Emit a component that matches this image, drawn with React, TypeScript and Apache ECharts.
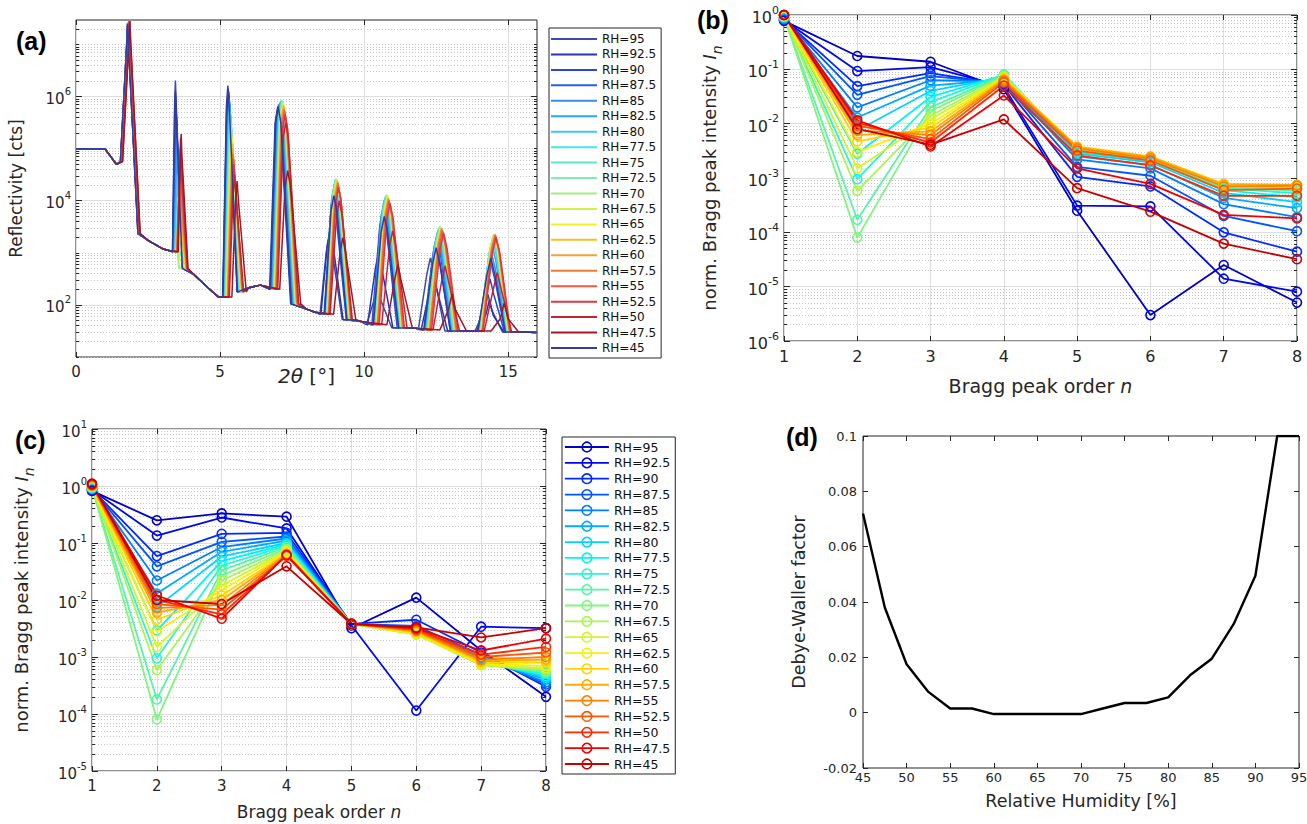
import React, { useEffect, useRef } from "react";
import * as echarts from "echarts";

// ---------------- shared categories ----------------
const RH_LEVELS = ["95", "92.5", "90", "87.5", "85", "82.5", "80", "77.5", "75", "72.5", "70", "67.5", "65", "62.5", "60", "57.5", "55", "52.5", "50", "47.5", "45"];

const COLORS_A = ["#3d4aa8", "#2a33b0", "#2a45d8", "#2460ea", "#3a8cee", "#2aa8f0", "#3fc6f0", "#3de8f0", "#5ce8cc", "#7deeb0", "#a2ee80", "#d4f048", "#f4f020", "#f2c020", "#f2a040", "#f27a30", "#ee5a40", "#e23444", "#c42434", "#a01824", "#323c9c"];
const COLORS_JET = ["#0000c8", "#0008f0", "#002aff", "#0055ff", "#0080ff", "#00aaff", "#00d4ff", "#00f4f4", "#2af4d4", "#55f4aa", "#80f480", "#aaf455", "#d4f42a", "#f8f000", "#ffd400", "#ffaa00", "#ff8000", "#ff5500", "#ff2a00", "#f00000", "#c80000"];

// ---------------- panel (a): reflectivity (log10 counts) ----------------
const A_START = [[0, 5.0], [1.0, 5.0], [1.4, 4.7]];
const A_GAPS = [
  [[2.5, 3.24], [3.0, 3.08], [3.25, 3.04]],
  [[4.1, 2.58], [4.6, 2.32], [4.95, 2.15]],
  [[6.0, 2.33], [6.4, 2.38]],
  [[8.0, 1.92], [8.3, 1.86]],
  [[9.9, 1.68]],
  [[11.8, 1.55]],
  [[13.75, 1.5]],
  [[15.5, 1.48], [16, 1.47]],
];
const A_FOOT_L_DX = [0.25, 0.1, 0.18, 0.28, 0.32, 0.38, 0.42, 0.45];
const A_FOOT_R_DX = [0.36, 0.24, 0.32, 0.45, 0.45, 0.5, 0.5, 0.5];
const A_FOOT_L_LOG = [4.75, 3.02, 2.15, 2.3, 1.82, 1.62, 1.52, 1.5];
const A_FOOT_R_LOG = [3.37, 2.7, 2.25, 2.02, 1.72, 1.56, 1.5, 1.48];
// shoulder of each peak order: horizontal half-width and drop below the top (log10)
const A_SHOULDER_DX = [0.035, 0.025, 0.05, 0.09, 0.1, 0.11, 0.12, 0.13];
const A_SHOULDER_DROP = [0.45, 0.4, 0.4, 0.3, 0.3, 0.3, 0.3, 0.3];

const A_POS_1 = [1.79, 1.79, 1.8, 1.8, 1.8, 1.81, 1.81, 1.81, 1.82, 1.82, 1.82, 1.83, 1.83, 1.83, 1.84, 1.84, 1.84, 1.85, 1.86, 1.87, 1.79];
const A_LOG_1 = [7.4, 7.4, 7.41, 7.41, 7.42, 7.42, 7.42, 7.43, 7.43, 7.43, 7.43, 7.43, 7.43, 7.44, 7.44, 7.44, 7.44, 7.45, 7.45, 7.45, 7.4];
const A_POS_2 = [3.45, 3.46, 3.48, 3.49, 3.5, 3.51, 3.52, 3.53, 3.54, 3.55, 3.56, 3.56, 3.57, 3.58, 3.59, 3.6, 3.61, 3.62, 3.63, 3.65, 3.45];
const A_LOG_2 = [6.31, 6.0, 5.7, 5.5, 5.2, 4.9, 4.5, 4.0, 3.5, 2.9, 2.75, 3.3, 3.8, 4.1, 4.4, 4.6, 4.8, 5.0, 5.2, 5.28, 6.1];
const A_POS_3 = [5.27, 5.28, 5.3, 5.31, 5.32, 5.33, 5.34, 5.36, 5.37, 5.38, 5.39, 5.4, 5.42, 5.43, 5.44, 5.45, 5.47, 5.48, 5.5, 5.59, 5.28];
const A_LOG_3 = [6.21, 6.15, 6.1, 6.0, 5.95, 5.85, 5.8, 5.7, 5.6, 5.5, 5.4, 5.3, 5.2, 5.1, 5.0, 4.9, 4.8, 4.7, 4.5, 4.38, 6.1];
const A_POS_4 = [7.0, 7.02, 7.04, 7.06, 7.08, 7.1, 7.12, 7.14, 7.15, 7.16, 7.17, 7.18, 7.19, 7.2, 7.21, 7.22, 7.24, 7.26, 7.28, 7.35, 7.02];
const A_LOG_4 = [5.8, 5.82, 5.84, 5.86, 5.88, 5.9, 5.92, 5.92, 5.92, 5.9, 5.9, 5.88, 5.86, 5.84, 5.8, 5.76, 5.72, 5.66, 5.5, 4.58, 5.8];
const A_POS_5 = [8.79, 8.82, 8.93, 8.95, 8.97, 8.98, 9.0, 9.01, 9.02, 9.03, 9.04, 9.05, 9.06, 9.07, 9.08, 9.09, 9.1, 9.11, 9.14, 9.26, 8.95];
const A_LOG_5 = [3.33, 3.45, 4.0, 4.2, 4.3, 4.35, 4.4, 4.42, 4.42, 4.42, 4.42, 4.4, 4.4, 4.38, 4.36, 4.34, 4.3, 4.25, 4.0, 3.29, 4.1];
const A_POS_6 = [10.46, 10.5, 10.65, 10.68, 10.7, 10.72, 10.74, 10.76, 10.78, 10.79, 10.8, 10.81, 10.82, 10.83, 10.84, 10.85, 10.87, 10.9, 10.99, 11.17, 10.7];
const A_LOG_6 = [2.4, 3.0, 3.8, 3.9, 4.0, 4.05, 4.08, 4.1, 4.11, 4.11, 4.1, 4.1, 4.08, 4.06, 4.04, 4.02, 4.0, 3.95, 3.42, 2.78, 3.7];
const A_POS_7 = [12.3, 12.4, 12.49, 12.52, 12.54, 12.56, 12.58, 12.6, 12.62, 12.64, 12.65, 12.66, 12.67, 12.68, 12.69, 12.7, 12.72, 12.76, 12.81, 13.05, 12.5];
const A_LOG_7 = [2.9, 2.6, 3.2, 3.3, 3.38, 3.42, 3.46, 3.48, 3.5, 3.5, 3.5, 3.5, 3.49, 3.48, 3.47, 3.45, 3.42, 3.38, 2.75, 2.21, 3.1];
const A_POS_8 = [14.3, 14.35, 14.37, 14.4, 14.42, 14.44, 14.46, 14.47, 14.48, 14.49, 14.5, 14.51, 14.52, 14.53, 14.54, 14.55, 14.56, 14.58, 14.62, 14.86, 14.4];
const A_LOG_8 = [2.2, 2.1, 2.5, 2.8, 3.0, 3.15, 3.25, 3.3, 3.33, 3.35, 3.36, 3.36, 3.36, 3.36, 3.35, 3.35, 3.33, 3.3, 2.62, 2.04, 2.9];

const A_X_TICKS = [0, 5, 10, 15];
const A_Y_LABELS = [2, 4, 6];

// ---------------- panel (b): normalised Bragg peak intensity ----------------
const ORDERS = [1, 2, 3, 4, 5, 6, 7, 8];
const B_95 = [0.78, 0.176, 0.138, 0.043, 2.5e-4, 3.0e-6, 2.5e-5, 5.1e-6];
const B_92_5 = [0.8, 0.093, 0.11, 0.048, 3.1e-4, 3.0e-4, 1.4e-5, 8.1e-6];
const B_90 = [0.82, 0.049, 0.085, 0.052, 1.05e-3, 7.0e-4, 1.0e-4, 4.4e-5];
const B_87_5 = [0.84, 0.034, 0.075, 0.056, 1.6e-3, 1.1e-3, 2.0e-4, 1.05e-4];
const B_85 = [0.86, 0.02, 0.063, 0.06, 2.2e-3, 1.5e-3, 3.3e-4, 1.9e-4];
const B_82_5 = [0.88, 0.013, 0.05, 0.065, 2.5e-3, 1.75e-3, 4.3e-4, 2.8e-4];
const B_80 = [0.9, 0.0075, 0.04, 0.072, 2.8e-3, 1.95e-3, 5.3e-4, 3.6e-4];
const B_77_5 = [0.92, 0.0028, 0.031, 0.078, 3.0e-3, 2.1e-3, 6.0e-4, 4.4e-4];
const B_75 = [0.93, 0.00095, 0.025, 0.08, 3.2e-3, 2.2e-3, 6.5e-4, 5.2e-4];
const B_72_5 = [0.94, 0.00017, 0.02, 0.078, 3.3e-3, 2.25e-3, 6.8e-4, 5.8e-4];
const B_70 = [0.95, 0.00008, 0.017, 0.076, 3.4e-3, 2.3e-3, 7.0e-4, 6.2e-4];
const B_67_5 = [0.96, 0.00058, 0.014, 0.074, 3.5e-3, 2.35e-3, 7.2e-4, 6.6e-4];
const B_65 = [0.97, 0.0015, 0.012, 0.072, 3.6e-3, 2.4e-3, 7.4e-4, 7.0e-4];
const B_62_5 = [0.98, 0.003, 0.01, 0.07, 3.7e-3, 2.45e-3, 7.6e-4, 7.2e-4];
const B_60 = [0.99, 0.0047, 0.0085, 0.068, 3.8e-3, 2.5e-3, 7.8e-4, 7.4e-4];
const B_57_5 = [1.0, 0.0062, 0.0072, 0.065, 3.7e-3, 2.45e-3, 7.6e-4, 7.5e-4];
const B_55 = [1.0, 0.0075, 0.0062, 0.062, 3.5e-3, 2.3e-3, 7.0e-4, 7.2e-4];
const B_52_5 = [1.0, 0.0092, 0.0052, 0.058, 3.2e-3, 2.1e-3, 6.0e-4, 6.4e-4];
const B_50 = [1.0, 0.0105, 0.0045, 0.05, 2.6e-3, 1.7e-3, 4.7e-4, 4.7e-4];
const B_47_5 = [1.0, 0.0115, 0.0038, 0.033, 1.5e-3, 7.8e-4, 2.1e-4, 1.8e-4];
const B_45 = [1.0, 0.008, 0.0041, 0.012, 6.5e-4, 2.4e-4, 6.2e-5, 3.2e-5];
const B_ROWS = [B_95, B_92_5, B_90, B_87_5, B_85, B_82_5, B_80, B_77_5, B_75, B_72_5, B_70, B_67_5, B_65, B_62_5, B_60, B_57_5, B_55, B_52_5, B_50, B_47_5, B_45];

// ---------------- panel (c) ----------------
const C_95 = [0.82, 0.25, 0.33, 0.29, 0.0032, 0.011, 0.0013, 0.0002];
const C_92_5 = [0.85, 0.135, 0.28, 0.18, 0.0036, 0.000115, 0.0034, 0.0032];
const C_90 = [0.87, 0.059, 0.145, 0.15, 0.0038, 0.0045, 0.0012, 0.0003];
const C_87_5 = [0.88, 0.039, 0.105, 0.13, 0.0038, 0.0035, 0.0011, 0.00033];
const C_85 = [0.9, 0.022, 0.085, 0.12, 0.0038, 0.0031, 0.001, 0.00036];
const C_82_5 = [0.91, 0.013, 0.07, 0.11, 0.0038, 0.003, 0.00095, 0.0004];
const C_80 = [0.92, 0.0075, 0.058, 0.1, 0.0038, 0.0029, 0.0009, 0.00043];
const C_77_5 = [0.93, 0.0029, 0.048, 0.095, 0.0038, 0.0028, 0.00085, 0.00046];
const C_75 = [0.94, 0.00095, 0.04, 0.09, 0.0038, 0.0027, 0.0008, 0.0005];
const C_72_5 = [0.95, 0.00018, 0.033, 0.085, 0.0038, 0.0026, 0.00076, 0.00053];
const C_70 = [0.96, 0.00008, 0.027, 0.08, 0.0038, 0.0025, 0.00073, 0.00056];
const C_67_5 = [0.97, 0.00059, 0.022, 0.076, 0.0038, 0.0025, 0.00072, 0.0006];
const C_65 = [0.98, 0.0015, 0.018, 0.072, 0.0038, 0.0025, 0.00073, 0.00064];
const C_62_5 = [0.99, 0.0028, 0.015, 0.069, 0.0038, 0.0026, 0.00076, 0.0007];
const C_60 = [1.0, 0.0045, 0.012, 0.066, 0.0038, 0.0027, 0.0008, 0.0008];
const C_57_5 = [1.0, 0.006, 0.01, 0.064, 0.0038, 0.0028, 0.00085, 0.0009];
const C_55 = [1.02, 0.0072, 0.0082, 0.062, 0.0038, 0.0029, 0.0009, 0.001];
const C_52_5 = [1.04, 0.0085, 0.0068, 0.06, 0.0038, 0.003, 0.001, 0.0012];
const C_50 = [1.06, 0.01, 0.0056, 0.06, 0.0038, 0.0031, 0.0011, 0.0015];
const C_47_5 = [1.08, 0.012, 0.0047, 0.062, 0.0038, 0.0032, 0.0013, 0.0021];
const C_45 = [1.1, 0.01, 0.0085, 0.039, 0.0038, 0.0033, 0.0022, 0.0032];
const C_ROWS = [C_95, C_92_5, C_90, C_87_5, C_85, C_82_5, C_80, C_77_5, C_75, C_72_5, C_70, C_67_5, C_65, C_62_5, C_60, C_57_5, C_55, C_52_5, C_50, C_47_5, C_45];

// ---------------- panel (d): Debye-Waller factor ----------------
const D_RH = [45, 47.5, 50, 52.5, 55, 57.5, 60, 62.5, 65, 67.5, 70, 72.5, 75, 77.5, 80, 82.5, 85, 87.5, 90, 92.5, 95];
const D_DWF = [0.072, 0.038, 0.0175, 0.0075, 0.0015, 0.0015, -0.0005, -0.0005, -0.0005, -0.0005, -0.0005, 0.0015, 0.0035, 0.0035, 0.0055, 0.0135, 0.0195, 0.032, 0.0495, 0.1, 0.1];
const D_X_TICKS = [45, 50, 55, 60, 65, 70, 75, 80, 85, 90, 95];
const D_Y_TICKS = [-0.02, 0, 0.02, 0.04, 0.06, 0.08, 0.1];

// ---------------- styling ----------------
const FONT = '"DejaVu Sans", sans-serif';
const TXT = "#262626";
const AX = "#262626";
const MAJ = "#dedede";
const MIN = "#c4c4c4";

const A_PEAK_POS = [A_POS_1, A_POS_2, A_POS_3, A_POS_4, A_POS_5, A_POS_6, A_POS_7, A_POS_8];
const A_PEAK_LOG = [A_LOG_1, A_LOG_2, A_LOG_3, A_LOG_4, A_LOG_5, A_LOG_6, A_LOG_7, A_LOG_8];

function curveA(i: number) {
  const pts: number[][] = A_START.map((p) => [p[0], p[1]]);
  for (let k = 0; k < 8; k++) {
    const p = A_PEAK_POS[k][i];
    const top = A_PEAK_LOG[k][i];
    pts.push([p - A_FOOT_L_DX[k], A_FOOT_L_LOG[k]]);
    pts.push([p - A_SHOULDER_DX[k], Math.max(top - A_SHOULDER_DROP[k], A_FOOT_L_LOG[k])]);
    pts.push([p, top]);
    pts.push([p + A_SHOULDER_DX[k], Math.max(top - A_SHOULDER_DROP[k], A_FOOT_R_LOG[k])]);
    pts.push([p + A_FOOT_R_DX[k], A_FOOT_R_LOG[k]]);
    A_GAPS[k].forEach((g) => pts.push([g[0], g[1]]));
  }
  return pts;
}

function minorLogs(lo: number, hi: number, extraDecades: number[]) {
  const out: number[] = [...extraDecades];
  for (let k = lo; k < hi; k++) for (let m = 2; m <= 9; m++) out.push(k + Math.log10(m));
  return out.filter((v) => v <= hi);
}

function logRich(size: number) {
  return {
    b: { fontSize: size, fontFamily: FONT, color: TXT, lineHeight: size + 5, verticalAlign: "bottom" },
    s: { fontSize: Math.round(size * 0.68), fontFamily: FONT, color: TXT, lineHeight: Math.round(size * 0.5), verticalAlign: "top" },
  };
}

function nameRich(size: number) {
  return {
    r: { fontSize: size, fontFamily: FONT, color: TXT, lineHeight: size + 6, verticalAlign: "top" },
    i: { fontSize: size, fontFamily: FONT, color: TXT, fontStyle: "italic", lineHeight: size + 6, verticalAlign: "top" },
    sub: { fontSize: Math.round(size * 0.75), fontFamily: FONT, color: TXT, fontStyle: "italic", lineHeight: Math.round(size * 0.75), verticalAlign: "bottom" },
  };
}

const NO_LINE = { show: false, onZero: false };

function xAxes(grid: number, min: number, max: number, ticks: number[], labelSize: number, name: string, nameGap: number, nameSize: number, split: boolean, labelMargin: number) {
  return [
    {
      type: "value", gridIndex: grid, position: "bottom", min, max,
      axisLine: NO_LINE,
      axisTick: { show: true, inside: true, length: 5, customValues: ticks, lineStyle: { color: AX, width: 1 } },
      axisLabel: { show: true, customValues: ticks, margin: labelMargin, fontSize: labelSize, fontFamily: FONT, color: TXT, formatter: (v: number) => String(v) },
      splitLine: { show: split, lineStyle: { color: MAJ, width: 1 } },
      name, nameLocation: "middle", nameGap, nameMoveOverlap: false,
      nameTextStyle: { fontSize: nameSize, fontFamily: FONT, color: TXT, rich: nameRich(nameSize) },
    },
    {
      type: "value", gridIndex: grid, position: "top", min, max,
      axisLine: NO_LINE,
      axisTick: { show: true, inside: true, length: 5, customValues: ticks, lineStyle: { color: AX, width: 1 } },
      axisLabel: { show: false }, splitLine: { show: false },
    },
  ];
}

function yLogAxes(grid: number, min: number, max: number, major: number[], labels: number[], minor: number[], labelSize: number, name: string, nameGap: number, nameSize: number) {
  const base = { type: "value", gridIndex: grid, min, max, axisLine: NO_LINE };
  return [
    {
      ...base, position: "left",
      axisTick: { show: true, inside: true, length: 6, customValues: major, lineStyle: { color: AX, width: 1 } },
      axisLabel: { show: true, customValues: labels, margin: 5, formatter: (v: number) => `{b|10}{s|${Math.round(v)}}`, rich: logRich(labelSize) },
      splitLine: { show: true, lineStyle: { color: MAJ, width: 1 } },
      name, nameLocation: "middle", nameGap, nameRotate: 90, nameMoveOverlap: false,
      nameTextStyle: { fontSize: nameSize, fontFamily: FONT, color: TXT, rich: nameRich(nameSize) },
    },
    {
      ...base, position: "left",
      axisTick: { show: true, inside: true, length: 3, customValues: minor, lineStyle: { color: AX, width: 1 } },
      axisLabel: { show: false },
      splitLine: { show: true, lineStyle: { color: MIN, width: 1, type: [1, 2] } },
    },
    {
      ...base, position: "right",
      axisTick: { show: true, inside: true, length: 6, customValues: major, lineStyle: { color: AX, width: 1 } },
      axisLabel: { show: false }, splitLine: { show: false },
    },
    {
      ...base, position: "right",
      axisTick: { show: true, inside: true, length: 3, customValues: minor, lineStyle: { color: AX, width: 1 } },
      axisLabel: { show: false }, splitLine: { show: false },
    },
  ];
}

function gridBox(left: number, top: number, width: number, height: number) {
  return { left, top, width, height, show: true, borderColor: AX, borderWidth: 1, backgroundColor: "transparent", containLabel: false, outerBoundsMode: "none" };
}

function buildOption() {
  const grids = [gridBox(76, 20, 461, 337), gridBox(784, 15, 513, 326), gridBox(92, 429, 454, 342), gridBox(863, 436, 436, 332)];

  const xAxis = [
    ...xAxes(0, 0, 16, A_X_TICKS, 15, "{i|2θ} {r|[°]}", 9, 20, true, 7),
    ...xAxes(1, 1, 8, ORDERS, 16, "{r|Bragg peak order }{i|n}", 35, 19, true, 7),
    ...xAxes(2, 1, 8, ORDERS, 15, "{r|Bragg peak order }{i|n}", 32, 17, true, 7),
    ...xAxes(3, 45, 95, D_X_TICKS, 13, "{r|Relative Humidity [%]}", 24, 17.5, false, 3),
  ];

  const aMinor = minorLogs(1, 7.47, [1, 3, 5, 7]);
  const bMajor = [-6, -5, -4, -3, -2, -1, 0];
  const cMajor = [-5, -4, -3, -2, -1, 0, 1];

  const yAxis: any[] = [
    ...yLogAxes(0, 1, 7.47, A_Y_LABELS, A_Y_LABELS, aMinor, 15, "{r|Reflectivity [cts]}", 46, 17),
    ...yLogAxes(1, -6, 0, bMajor, bMajor, minorLogs(-6, 0, []), 16, "{r|norm. Bragg peak intensity }{i|I}{sub|n}", 60, 18),
    ...yLogAxes(2, -5, 1, cMajor, cMajor, minorLogs(-5, 1, []), 15, "{r|norm. Bragg peak intensity }{i|I}{sub|n}", 56, 18),
    {
      type: "value", gridIndex: 3, position: "left", min: -0.02, max: 0.1,
      axisLine: NO_LINE,
      axisTick: { show: true, inside: true, length: 5, customValues: D_Y_TICKS, lineStyle: { color: AX } },
      axisLabel: { show: true, customValues: D_Y_TICKS, margin: 6, fontSize: 13, fontFamily: FONT, color: TXT, formatter: (v: number) => String(Math.round(v * 100) / 100) },
      splitLine: { show: false },
      name: "{r|Debye-Waller factor}", nameLocation: "middle", nameGap: 50, nameRotate: 90, nameMoveOverlap: false,
      nameTextStyle: { fontSize: 17.5, fontFamily: FONT, color: TXT, rich: nameRich(17.5) },
    },
    {
      type: "value", gridIndex: 3, position: "right", min: -0.02, max: 0.1,
      axisLine: NO_LINE,
      axisTick: { show: true, inside: true, length: 5, customValues: D_Y_TICKS, lineStyle: { color: AX } },
      axisLabel: { show: false }, splitLine: { show: false },
    },
  ];

  const seriesA = RH_LEVELS.map((rh, i) => ({
    type: "line", name: `RH=${rh}`, xAxisIndex: 0, yAxisIndex: 0, data: curveA(i),
    symbol: "none", silent: true, clip: true,
    lineStyle: { color: COLORS_A[i], width: 1.5 }, itemStyle: { color: COLORS_A[i] },
  }));

  const markerSeries = (rows: number[][], axisX: number, axisY: number, suffix: string) =>
    RH_LEVELS.map((rh, i) => ({
      type: "line", name: `RH=${rh}${suffix}`, xAxisIndex: axisX, yAxisIndex: axisY,
      data: rows[i].map((v, j) => [ORDERS[j], Math.log10(v)]),
      symbol: "circle", symbolSize: 9, showSymbol: true, silent: true, clip: true,
      lineStyle: { color: COLORS_JET[i], width: 1.8 },
      itemStyle: { color: "rgba(0,0,0,0)", borderColor: COLORS_JET[i], borderWidth: 1.6 },
    }));

  const seriesB = markerSeries(B_ROWS, 2, 4, "  ");
  const seriesC = markerSeries(C_ROWS, 4, 8, " ");

  const seriesD = [{
    type: "line", name: "DWF", xAxisIndex: 6, yAxisIndex: 12,
    data: D_RH.map((x, i) => [x, D_DWF[i]]),
    symbol: "none", silent: true, clip: true,
    lineStyle: { color: "#000", width: 2.4 },
  }];

  const legends = [
    {
      orient: "vertical", left: 549, top: 28, selectedMode: false,
      data: RH_LEVELS.map((r) => `RH=${r}`),
      icon: "rect", itemWidth: 46, itemHeight: 2, itemGap: 1.45,
      padding: [4, 5, 3, 2], borderColor: AX, borderWidth: 1, backgroundColor: "#fff",
      textStyle: { fontSize: 12, fontFamily: FONT, color: "#111", lineHeight: 14 },
    },
    {
      orient: "vertical", left: 562, top: 437, selectedMode: false,
      data: RH_LEVELS.map((r) => `RH=${r} `),
      formatter: (n: string) => n.trim(),
      itemWidth: 44, itemHeight: 12, itemGap: 1.85,
      padding: [3, 5, 3, 2], borderColor: AX, borderWidth: 1, backgroundColor: "#fff",
      itemStyle: { borderWidth: 1.6 }, lineStyle: { width: 1.8 },
      textStyle: { fontSize: 12.5, fontFamily: FONT, color: "#111", lineHeight: 14 },
    },
  ];

  const titleFont = 'bold 25px "Liberation Sans", Arial, sans-serif';
  const graphic = [
    { type: "text", left: 16, top: 28, style: { text: "(a)", font: titleFont, fill: "#000" } },
    { type: "text", left: 697, top: 7, style: { text: "(b)", font: titleFont, fill: "#000" } },
    { type: "text", left: 15, top: 427, style: { text: "(c)", font: titleFont, fill: "#000" } },
    { type: "text", left: 786, top: 424, style: { text: "(d)", font: titleFont, fill: "#000" } },
  ];

  return {
    animation: false,
    backgroundColor: "#fff",
    textStyle: { fontFamily: FONT },
    grid: grids,
    xAxis,
    yAxis,
    legend: legends,
    graphic,
    series: [...seriesA, ...seriesB, ...seriesC, ...seriesD],
  };
}

export default function App() {
  const ref = useRef<HTMLDivElement>(null);
  useEffect(() => {
    document.body.style.margin = "0";
    const chart = echarts.init(ref.current as HTMLDivElement, null, { renderer: "svg" });
    chart.setOption(buildOption() as any);
    return () => chart.dispose();
  }, []);
  return <div ref={ref} style={{ width: 1307, height: 824, background: "#fff" }} />;
}
